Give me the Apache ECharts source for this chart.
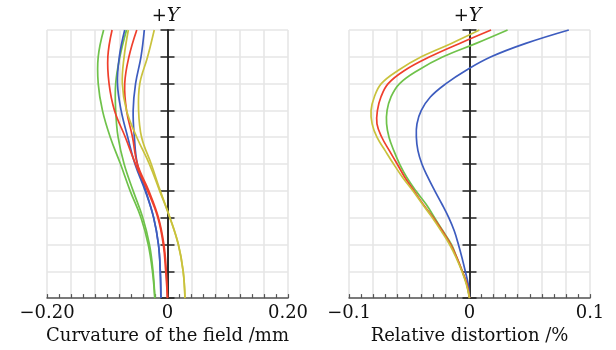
<!DOCTYPE html>
<html>
<head>
<meta charset="utf-8">
<script src="https://cdn.jsdelivr.net/npm/echarts@6/dist/echarts.min.js"></script>
<style>
  body { margin: 0; background: #fff; }
  #chart { width: 616px; height: 350px; }
</style>
</head>
<body>
<div id="chart"></div>
<script>
// normalized field height (left panel)
const fieldY = [0, 0.1, 0.2, 0.3, 0.4, 0.5, 0.6, 0.7, 0.8, 0.9, 1.0];
// field curvature, mm (T = outer curve, S = inner curve of each colour)
const greenT  = [-0.021, -0.025, -0.032, -0.044, -0.062, -0.078, -0.095, -0.108, -0.115, -0.115, -0.106];
const greenS  = [-0.021, -0.024, -0.030, -0.041, -0.057, -0.072, -0.082, -0.086, -0.086, -0.079, -0.068];
const redT    = [0, -0.003, -0.007, -0.016, -0.033, -0.053, -0.070, -0.088, -0.097, -0.099, -0.092];
const redS    = [0, -0.002, -0.006, -0.015, -0.031, -0.050, -0.058, -0.068, -0.071, -0.064, -0.051];
const blueT   = [-0.011, -0.012, -0.015, -0.023, -0.037, -0.054, -0.066, -0.077, -0.083, -0.080, -0.071];
const blueS   = [-0.011, -0.012, -0.015, -0.023, -0.036, -0.050, -0.055, -0.057, -0.053, -0.044, -0.0385];
const yellowT = [0.029, 0.026, 0.018, 0.004, -0.013, -0.030, -0.051, -0.068, -0.075, -0.072, -0.065];
const yellowS = [0.029, 0.026, 0.018, 0.004, -0.012, -0.027, -0.043, -0.048, -0.046, -0.033, -0.022];

// normalized field height (right panel)
const distY = [0, 0.05, 0.1, 0.15, 0.2, 0.25, 0.3, 0.35, 0.4, 0.45, 0.5,
               0.55, 0.6, 0.65, 0.7, 0.75, 0.8, 0.85, 0.9, 0.95, 1.0];
// relative distortion, %
const distBlue   = [0, -0.001, -0.0035, -0.0062, -0.0092, -0.0126, -0.0172, -0.0228, -0.0288, -0.0345, -0.0395,
                    -0.0428, -0.0441, -0.0436, -0.040, -0.0325, -0.0195, -0.0027, 0.0179, 0.0467, 0.0824];
const distGreen  = [0, -0.0022, -0.006, -0.0104, -0.015, -0.022, -0.029, -0.036, -0.0445, -0.052, -0.058,
                    -0.0628, -0.0668, -0.0688, -0.0684, -0.0652, -0.058, -0.0426, -0.022, 0.0055, 0.0316];
const distRed    = [0, -0.002, -0.006, -0.0104, -0.0157, -0.0225, -0.030, -0.0385, -0.046, -0.0536, -0.060,
                    -0.0665, -0.0728, -0.0768, -0.0764, -0.0735, -0.0675, -0.0536, -0.033, -0.0082, 0.0179];
const distYellow = [0, -0.0025, -0.0063, -0.011, -0.0165, -0.0234, -0.0308, -0.039, -0.047, -0.0555, -0.063,
                    -0.070, -0.0768, -0.0808, -0.0817, -0.079, -0.0732, -0.059, -0.040, -0.0151, 0.0082];

// tick labels
const fieldTicks = [-0.2, 0, 0.2];
const fieldTickLabels = ['\u22120.20', '0', '0.20'];
const distTicks = [-0.1, 0, 0.1];
const distTickLabels = ['\u22120.1', '0', '0.1'];

const COLORS = { green: '#6fc24a', red: '#ef3f2c', blue: '#3d5cbf', yellow: '#c9c23c' };
const FONT = 'DejaVu Serif';
const GRID_W = 241;

function pairs(xs, ys) { return xs.map((x, i) => [x, ys[i]]); }

function labelFor(ticks, labels) {
    return v => {
        const i = ticks.findIndex(t => Math.abs(t - v) < 1e-6);
        return i >= 0 ? labels[i] : '';
    };
}

function xAxisOf(gridIndex, min, max, interval, fmt, name) {
    return {
        type: 'value', gridIndex, min, max, interval,
        axisLine: { onZero: false, lineStyle: { color: '#555', width: 1.5 } },
        axisTick: { inside: true, length: 4, lineStyle: { color: '#555', width: 1.2 } },
        minorTick: { show: true, splitNumber: 2, length: 4, lineStyle: { color: '#555', width: 1.2 } },
        splitLine: { show: true, lineStyle: { color: '#e6e6e6', width: 1.6 } },
        axisLabel: { formatter: fmt, color: '#111', fontFamily: FONT, fontSize: 18, margin: 6 },
        name, nameLocation: 'middle', nameGap: 27,
        nameTextStyle: { color: '#111', fontFamily: FONT, fontSize: 18 }
    };
}

// two y axes sit on x = 0: one carries the left half of each tick, one the right half
function yAxesOf(gridIndex) {
    return [{
        type: 'value', gridIndex, min: 0, max: 1, interval: 0.1, position: 'left',
        axisLine: { onZero: false, lineStyle: { color: '#222', width: 1.5 } },
        offset: -GRID_W / 2,
        axisTick: { length: 7, lineStyle: { color: '#222', width: 1.5 } },
        axisLabel: { show: false },
        splitLine: { show: true, lineStyle: { color: '#e6e6e6', width: 1.6 } },
        name: '{p|+}{y|Y}', nameLocation: 'end', nameGap: 4,
        nameTextStyle: {
            color: '#111', fontFamily: FONT, fontSize: 18, padding: [0, 4, 0, 0],
            rich: {
                p: { color: '#111', fontFamily: FONT, fontSize: 18 },
                y: { color: '#111', fontFamily: FONT, fontSize: 19, fontStyle: 'italic' }
            }
        }
    }, {
        type: 'value', gridIndex, min: 0, max: 1, interval: 0.1, position: 'right',
        axisLine: { onZero: false, lineStyle: { color: '#222', width: 1.5 } },
        offset: -GRID_W / 2,
        axisTick: { length: 7, lineStyle: { color: '#222', width: 1.5 } },
        axisLabel: { show: false },
        splitLine: { show: false }
    }];
}

// smooth curve through the data points, placed with the axes' own scales
function curve(xs, ys, color, xi, yi) {
    return {
        type: 'custom', xAxisIndex: xi, yAxisIndex: yi, data: pairs(xs, ys), silent: true,
        renderItem: (params, api) => {
            if (params.dataIndexInside !== 0) return;
            const pts = [];
            for (let i = 0; i < params.dataInsideLength; i++) {
                pts.push(api.coord([api.value(0, i), api.value(1, i)]));
            }
            return {
                type: 'polyline',
                shape: { points: pts, smooth: 0.4 },
                style: { stroke: color, lineWidth: 1.7, fill: 'none' }
            };
        }
    };
}

const chart = echarts.init(document.getElementById('chart'));
chart.setOption({
    backgroundColor: '#fff',
    animation: false,
    grid: [
        { left: 47, top: 30, width: GRID_W, height: 273 },
        { left: 349, top: 30, width: GRID_W, height: 273 }
    ],
    xAxis: [
        xAxisOf(0, -0.2, 0.2, 0.04, labelFor(fieldTicks, fieldTickLabels), 'Curvature of the field /mm'),
        xAxisOf(1, -0.1, 0.1, 0.02, labelFor(distTicks, distTickLabels), 'Relative distortion /%')
    ],
    yAxis: [...yAxesOf(0), ...yAxesOf(1)],
    series: [
        curve(greenT, fieldY, COLORS.green, 0, 0),
        curve(greenS, fieldY, COLORS.green, 0, 0),
        curve(blueT, fieldY, COLORS.blue, 0, 0),
        curve(blueS, fieldY, COLORS.blue, 0, 0),
        curve(redT, fieldY, COLORS.red, 0, 0),
        curve(redS, fieldY, COLORS.red, 0, 0),
        curve(yellowT, fieldY, COLORS.yellow, 0, 0),
        curve(yellowS, fieldY, COLORS.yellow, 0, 0),
        curve(distBlue, distY, COLORS.blue, 1, 2),
        curve(distGreen, distY, COLORS.green, 1, 2),
        curve(distRed, distY, COLORS.red, 1, 2),
        curve(distYellow, distY, COLORS.yellow, 1, 2)
    ]
});
</script>
</body>
</html>
